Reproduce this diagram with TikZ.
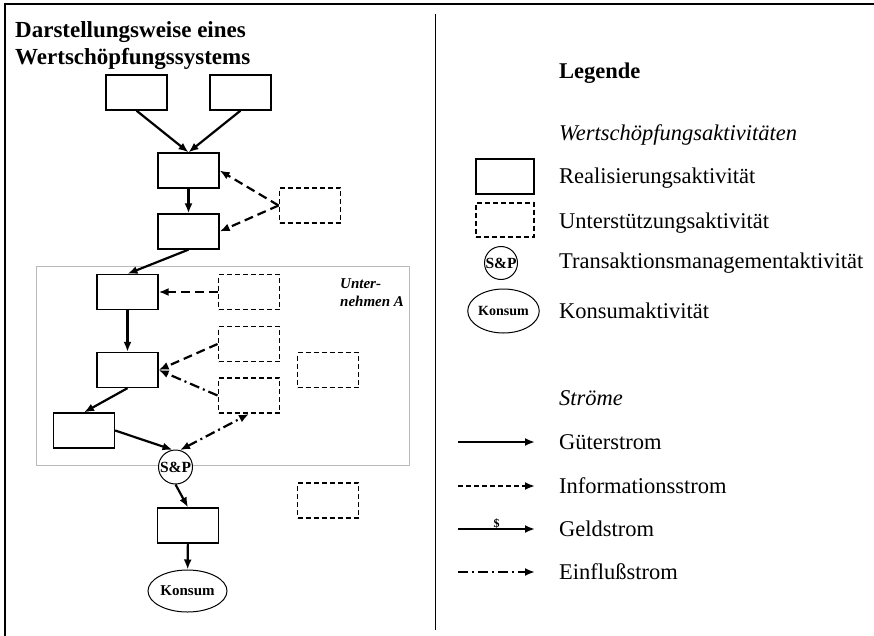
\documentclass[tikz,border=0pt]{standalone}
\usepackage{fontspec}
\setmainfont{Liberation Serif}
\usetikzlibrary{arrows.meta,positioning,shapes.geometric}

\begin{document}
\begin{tikzpicture}[
  x = 1pt, y = -1pt,
  every node/.style = {font=\fontsize{22.5}{27}\selectfont},
  real/.style    = {rectangle, draw, line width=1.3pt, minimum width=61pt,
                    minimum height=35pt, inner sep=0pt},
  supp/.style    = {real, line width=1.9pt, dash pattern=on 5pt off 3pt},
  trans/.style   = {circle, draw, fill=white, line width=1pt, minimum size=34pt,
                    inner sep=0pt, font=\fontsize{15.5}{15.5}\selectfont\bfseries},
  kons/.style    = {ellipse, draw, line width=1pt, minimum width=79pt,
                    minimum height=42pt, inner sep=0pt,
                    font=\fontsize{15}{15}\selectfont\bfseries},
  gut/.style     = {-{Latex[length=10pt,width=8pt]}, line width=2.2pt},
  info/.style    = {gut, dash pattern=on 9pt off 5pt},
  einfl/.style   = {gut, dash pattern=on 10pt off 4pt on 2pt off 4pt},
  legtxt/.style  = {anchor=west, inner sep=0pt},
]
\useasboundingbox (0,0) rectangle (874,636);

% ── Frame and divider ────────────────────────────────────────
\draw[line width=2pt] (5,636) -- (5,4) -- (874,4);
\draw[line width=1pt] (435,14) -- (435,630);

\node[anchor=north west, align=left, inner sep=0pt,
      font=\fontsize{23}{27}\selectfont\bfseries] (title) at (15,21)
  {Darstellungsweise eines\\Wertschöpfungssystems};

% ── Unternehmen A ────────────────────────────────────────────
\node[draw=gray!55, line width=1pt, minimum width=373pt, minimum height=199pt,
      inner sep=0pt] (untA) at (222.5,365.5) {};
\node[anchor=north west, align=left, inner sep=0pt,
      font=\fontsize{15}{18}\selectfont\bfseries\itshape] (untAlbl) at (340,278)
  {Unter-\\nehmen A};

% ── Activities ───────────────────────────────────────────────
\node[real] (a1) at (136.5,92.5) {};
\node[real] (a2) at (240.5,92.5) {};
\node[real] (a3) at (188.5,170.5) {};
\node[real] (a4) at (188.5,231.5) {};
\node[supp] (s1) at (310,205.5) {};
\node[real] (a5) at (127.5,292) {};
\node[supp] (s2) at (249,292) {};
\node[real] (a6) at (127.5,370) {};
\node[supp] (s3) at (249,344) {};
\node[supp] (s4) at (249,395.5) {};
\node[supp] (s5) at (328,370) {};
\node[real] (a7) at (84,430.5) {};
\node[trans] (sp) at (175.5,467) {S\&P};
\node[real] (a8) at (188,525.5) {};
\node[supp] (s6) at (328,500.5) {};
\node[kons] (kons) at (187.5,591) {Konsum};

% ── Flows ────────────────────────────────────────────────────
\draw[gut] (a1.south) -- (a3.north);
\draw[gut] (a2.south) -- (a3.north);
\draw[gut] (a3) -- (a4);
\draw[info] (s1.west) -- (a3.east);
\draw[info] (s1.west) -- (a4.east);
\draw[gut] (a4.south) -- (a5.north);
\draw[info] (s2.west) -- (a5.east);
\draw[gut] (a5) -- (a6);
\draw[info] (s3.west) -- (a6.east);
\draw[einfl] (s4.west) -- (a6.east);
\draw[gut] (a6.south) -- (a7.north);
\draw[gut] (a7.east) -- (sp.100);
\draw[einfl, {Latex[length=10pt,width=8pt]}-{Latex[length=10pt,width=8pt]}]
  (sp.75) -- (s4.south);
\draw[gut] (sp.south) -- (a8.north);
\draw[gut] (a8) -- (kons);

% ── Legende ──────────────────────────────────────────────────
\node[legtxt, font=\fontsize{22.5}{27}\selectfont\bfseries] (leg) at (559,73) {Legende};
\node[legtxt, font=\fontsize{22.5}{27}\selectfont\itshape] (wsa) at (559,135)
  {Wertschöpfungsaktivitäten};

\node[real, minimum width=58pt] (lreal) at (505,176.5) {};
\node[legtxt] at (559,178) {Realisierungsaktivität};
\node[supp, minimum width=58pt, minimum height=34pt] (lsupp) at (505,220) {};
\node[legtxt] at (559,223) {Unterstützungsaktivität};
\node[trans, minimum size=33pt] (lsp) at (501,263) {S\&P};
\node[legtxt] at (559,263) {Transaktionsmanagementaktivität};
\node[kons, minimum width=71pt, minimum height=44pt,
      font=\fontsize{14}{14}\selectfont\bfseries] (lkons) at (503.5,311) {Konsum};
\node[legtxt] at (559,311) {Konsumaktivität};

\node[legtxt, font=\fontsize{22.5}{27}\selectfont\itshape] (str) at (559,398) {Ströme};

\coordinate (g1) at (458,442);  \coordinate (g2) at (535,442);
\coordinate (i1) at (458,486);  \coordinate (i2) at (535,486);
\coordinate (m1) at (458,529);  \coordinate (m2) at (535,529);
\coordinate (e1) at (458,572);  \coordinate (e2) at (535,572);

\draw[gut] (g1) -- (g2);
\node[legtxt] at (559,442) {Güterstrom};
\draw[gut, dash pattern=on 5pt off 3pt] (i1) -- (i2);
\node[legtxt] at (559,486) {Informationsstrom};
\draw[gut] (m1) -- node[above, inner sep=0pt, yshift=-1pt,
  font=\fontsize{12}{12}\selectfont\bfseries]{\$} (m2);
\node[legtxt] at (559,529) {Geldstrom};
\draw[einfl] (e1) -- (e2);
\node[legtxt] at (559,572) {Einflußstrom};

\end{tikzpicture}
\end{document}
